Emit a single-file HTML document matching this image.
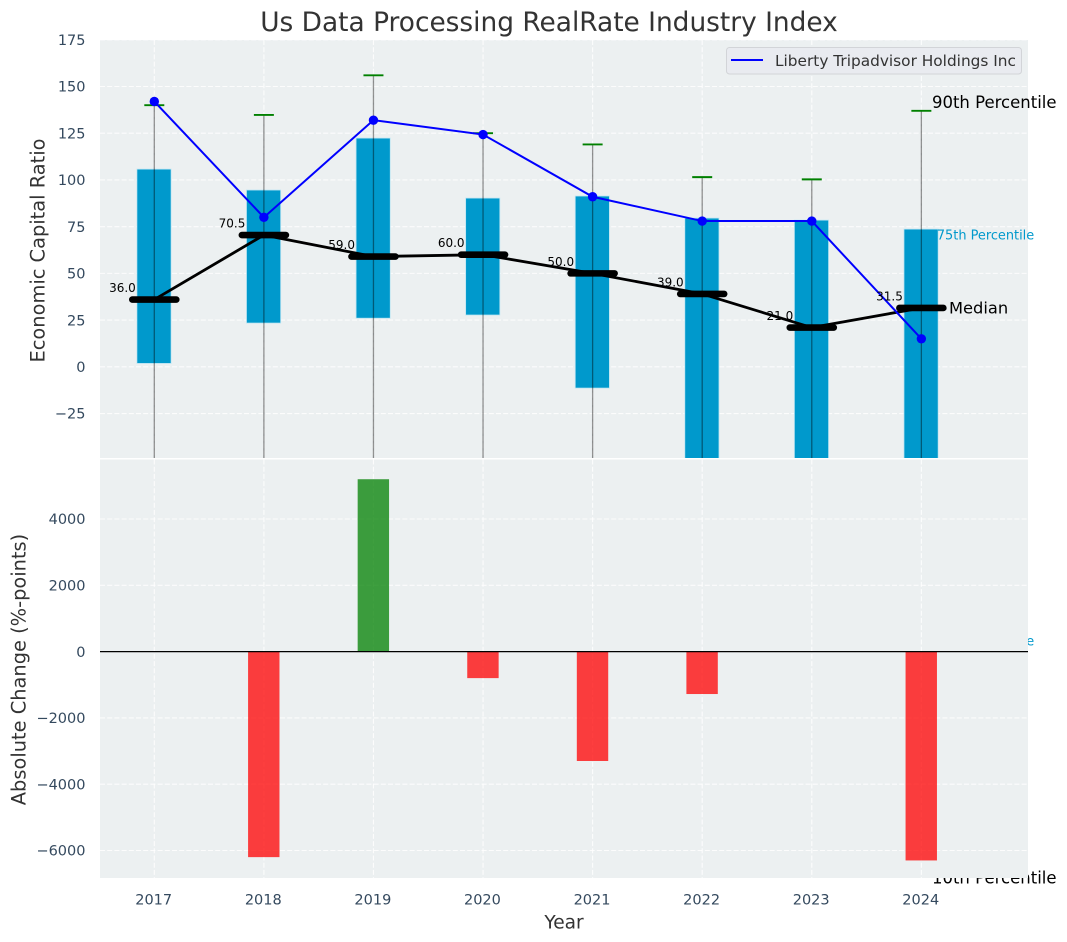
<!DOCTYPE html>
<html lang="en">
<head>
<meta charset="utf-8">
<title>Us Data Processing RealRate Industry Index</title>
<style>
html,body{margin:0;padding:0;background:#fff;}
svg{display:block;font-family:"DejaVu Sans","Liberation Sans",sans-serif;}
</style>
</head>
<body>
<svg id="chart" xmlns="http://www.w3.org/2000/svg" width="1067" height="942" viewBox="0 0 1067 942"></svg>
<script>
const years = [2017, 2018, 2019, 2020, 2021, 2022, 2023, 2024];
const p90 = [140, 134.8, 156, 125, 119, 101.5, 100.3, 137];
const q75 = [105.8, 94.6, 122.4, 90.3, 91.4, 79.6, 78.5, 73.7];
const medians = [36, 70.5, 59, 60, 50, 39, 21, 31.5];
const q25 = [1.8, 23.4, 26, 27.7, -11.4, -60, -75, -143.6];
const p10 = [-120, -95, -110, -90, -130, -170, -190, -278];
const company = [142, 80, 132, 124.3, 91, 78, 78, 15];
const changes = [0, -6200, 5200, -800, -3300, -1280, 0, -6300];
const topTicks = [175, 150, 125, 100, 75, 50, 25, 0, -25];
const bottomTicks = [4000, 2000, 0, -2000, -4000, -6000];

const NS = 'http://www.w3.org/2000/svg';
const svg = document.getElementById('chart');
const L = 100, R = 1028, T1 = 40, B1 = 458, T2 = 459.5, B2 = 878;
const xScale = v => 154.3 + (v - 2017) * 109.58;
const yTop = v => 366.8 - v * 1.8686;
const yBottom = v => 651.6 - v * 0.03315;
const fmt = v => (v < 0 ? '\u2212' + Math.abs(v) : String(v));

function make(tag, attrs, parent, text) {
  const e = document.createElementNS(NS, tag);
  for (const k in attrs) e.setAttribute(k, attrs[k]);
  if (text !== undefined) e.textContent = text;
  (parent || svg).appendChild(e);
  return e;
}
let el;

const defs = make('defs', {});
const clip = make('clipPath', {id: 'clip-top'}, defs);
make('rect', {x: L, y: T1, width: R - L, height: B1 - T1}, clip);
const clip2 = make('clipPath', {id: 'clip-bottom'}, defs);
make('rect', {x: L, y: T2, width: R - L, height: B2 - T2}, clip2);

/* ---------- top axes ---------- */
const topAxes = make('g', {});



el = make('rect', {x: L, y: T1, width: R - L, height: B1 - T1, fill: '#ecf0f1'}, topAxes);



const plotTop = make('g', {'clip-path': 'url(#clip-top)'}, topAxes);



topTicks.forEach(t => {
  const line = make('line', {x1: L, x2: R, y1: yTop(t), y2: yTop(t), stroke: '#fff', 'stroke-width': 1.1, 'stroke-dasharray': '5 2.2', opacity: 0.85}, plotTop);
  
  
});
years.forEach(y => {
  const line = make('line', {x1: xScale(y), x2: xScale(y), y1: T1, y2: B1, stroke: '#fff', 'stroke-width': 1.1, 'stroke-dasharray': '5 2.2', opacity: 0.85}, plotTop);
  
  
});

years.forEach((y, i) => {
  const box = make('rect', {x: xScale(y) - 17.4, width: 34.2, y: yTop(q75[i]), height: yTop(q25[i]) - yTop(q75[i]), fill: '#0099cc', stroke: '#bfe6f3', 'stroke-width': 0.8}, plotTop);
  
  

  const whisker = make('line', {x1: xScale(y), x2: xScale(y), y1: yTop(p90[i]), y2: yTop(p10[i]), stroke: '#000', 'stroke-opacity': 0.42, 'stroke-width': 1.3}, plotTop);
  
  

  const cap = make('line', {x1: xScale(y) - 10, x2: xScale(y) + 10, y1: yTop(p90[i]), y2: yTop(p90[i]), stroke: '#008000', 'stroke-width': 1.9}, plotTop);
  
  
});

const medianPath = make('polyline', {points: years.map((y, i) => xScale(y) + ',' + yTop(medians[i])).join(' '), fill: 'none', stroke: '#000', 'stroke-width': 2.8, 'stroke-linejoin': 'round'}, plotTop);



years.forEach((y, i) => {
  const mark = make('line', {x1: xScale(y) - 22, x2: xScale(y) + 22, y1: yTop(medians[i]), y2: yTop(medians[i]), stroke: '#000', 'stroke-width': 6.6, 'stroke-linecap': 'round'}, plotTop);
  
  
});

const companyPath = make('polyline', {points: years.map((y, i) => xScale(y) + ',' + yTop(company[i])).join(' '), fill: 'none', stroke: '#0000ff', 'stroke-width': 2}, plotTop);



years.forEach((y, i) => {
  const dot = make('circle', {cx: xScale(y), cy: yTop(company[i]), r: 4.7, fill: '#0000ff'}, plotTop);
  
  
});

years.forEach((y, i) => {
  const lab = make('text', {x: xScale(y) - 18.5, y: yTop(medians[i]) - 7.6, 'text-anchor': 'end', 'font-size': 12, fill: '#000'}, topAxes, medians[i].toFixed(1));
  
  
});

const last = years.length - 1;
const xLast = xScale(years[last]);
el = make('text', {x: xLast + 10.6, y: yTop(p90[last]) - 2.8, 'font-size': 16.5, fill: '#000'}, topAxes, '90th Percentile');


el = make('text', {x: xLast + 15.5, y: yTop(q75[last]) + 10.3, 'font-size': 12.9, fill: '#0099cc'}, topAxes, '75th Percentile');


el = make('text', {x: xLast + 27.6, y: yTop(medians[last]) + 5.6, 'font-size': 16.3, fill: '#000'}, topAxes, 'Median');


el = make('text', {x: xLast + 15.5, y: yTop(q25[last]) + 10.3, 'font-size': 12.9, fill: '#0099cc'}, topAxes, '25th Percentile');


el = make('text', {x: xLast + 10.6, y: yTop(p10[last]) - 2.8, 'font-size': 16.5, fill: '#000'}, topAxes, '10th Percentile');



/* legend */
const legend = make('g', {}, topAxes);


el = make('rect', {x: 726.5, y: 47.5, width: 295, height: 26.5, rx: 3, fill: '#e9ebf0', stroke: '#d2d4d8', 'stroke-width': 1}, legend);


el = make('line', {x1: 731, x2: 763, y1: 60, y2: 60, stroke: '#0000ff', 'stroke-width': 2}, legend);


el = make('text', {x: 775, y: 66, 'font-size': 15.35, fill: '#333'}, legend, 'Liberty Tripadvisor Holdings Inc');



/* ---------- bottom axes (painted over overflowing top annotations) ---------- */
const botAxes = make('g', {});



el = make('rect', {x: L, y: T2, width: R - L, height: B2 - T2, fill: '#ecf0f1'}, botAxes);



const plotBot = make('g', {'clip-path': 'url(#clip-bottom)'}, botAxes);



bottomTicks.forEach(t => {
  const line = make('line', {x1: L, x2: R, y1: yBottom(t), y2: yBottom(t), stroke: '#fff', 'stroke-width': 1.1, 'stroke-dasharray': '5 2.2', opacity: 0.85}, plotBot);
  
  
});
years.forEach(y => {
  const line = make('line', {x1: xScale(y), x2: xScale(y), y1: T2, y2: B2, stroke: '#fff', 'stroke-width': 1.1, 'stroke-dasharray': '5 2.2', opacity: 0.85}, plotBot);
  
  
});

years.forEach((y, i) => {
  const v = changes[i];
  if (v === 0) return;
  const bar = make('rect', {x: xScale(y) - 15.8, width: 31.4, y: Math.min(yBottom(v), yBottom(0)), height: Math.abs(yBottom(v) - yBottom(0)), fill: v > 0 ? '#008000' : '#ff0000', 'fill-opacity': 0.75}, plotBot);
  
  
});

el = make('line', {x1: L, x2: R, y1: yBottom(0), y2: yBottom(0), stroke: '#000', 'stroke-width': 1.3}, plotBot);



/* ---------- tick labels and titles ---------- */
const tickColor = '#34495e';
topTicks.forEach(t => {
  const lab = make('text', {x: 85.5, y: yTop(t) + 5.2, 'text-anchor': 'end', 'font-size': 14.5, fill: tickColor}, svg, fmt(t));
  
  
});
bottomTicks.forEach(t => {
  const lab = make('text', {x: 85.5, y: yBottom(t) + 5.2, 'text-anchor': 'end', 'font-size': 14.5, fill: tickColor}, svg, fmt(t));
  
  
});
years.forEach(y => {
  const lab = make('text', {x: xScale(y) - 0.6, y: 904.5, 'text-anchor': 'middle', 'font-size': 14.5, fill: tickColor}, svg, String(y));
  
  
});

el = make('text', {x: 549, y: 31, 'text-anchor': 'middle', 'font-size': 26.4, fill: '#333'}, svg, 'Us Data Processing RealRate Industry Index');


el = make('text', {x: 564, y: 928.5, 'text-anchor': 'middle', 'font-size': 18.6, fill: '#333'}, svg, 'Year');


el = make('text', {transform: 'translate(44.5 250.5) rotate(-90)', 'text-anchor': 'middle', 'font-size': 19.4, fill: '#333'}, svg, 'Economic Capital Ratio');


el = make('text', {transform: 'translate(25.5 669.5) rotate(-90)', 'text-anchor': 'middle', 'font-size': 19.4, fill: '#333'}, svg, 'Absolute Change (%-points)');


</script>
</body>
</html>
